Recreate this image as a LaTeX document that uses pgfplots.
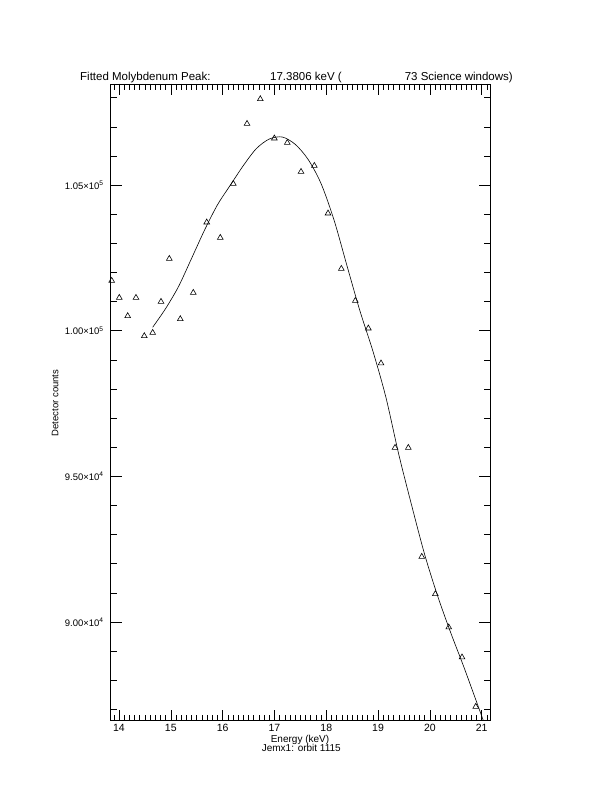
\documentclass[border=0pt]{standalone}
\usepackage{fontspec}
\setmainfont{Liberation Sans}
\usepackage{pgfplots}
\pgfplotsset{compat=1.18}
\begin{document}
\begin{tikzpicture}
\begin{axis}[
  scale only axis, width=379.3bp, height=636.7bp,
  xmin=13.84, xmax=21.16, ymin=86610, ymax=108470,
  axis line style={line width=0.6bp},
  every tick/.style={line width=0.6bp, black},
  tick align=inside, tick pos=both,
  xtick={14,15,16,17,18,19,20,21},
  xticklabels={14,15,16,17,18,19,20,21},
  minor xtick={13.9,14.0,...,21.1},
  ytick={90000,95000,100000,105000},
  yticklabels={9.00\texttimes10\textsuperscript{4},9.50\texttimes10\textsuperscript{4},1.00\texttimes10\textsuperscript{5},1.05\texttimes10\textsuperscript{5}},
  minor ytick={87000,88000,...,108000},
  scaled y ticks=false,
  major tick length=11bp, minor tick length=6bp,
  xticklabel style={font=\fontsize{10.5bp}{12bp}\selectfont},
  yticklabel style={font=\fontsize{9.5bp}{11bp}\selectfont, xshift=-3.5bp},
]
\addplot[only marks, mark=triangle, mark size=3.3bp, mark options={line width=0.6bp, black}] coordinates {
(13.859,101717) (14.006,101133) (14.168,100505) (14.328,101133) (14.488,99818)
(14.650,99931) (14.811,100996) (14.971,102472) (15.183,100402) (15.434,101305)
(15.693,103721) (15.955,103193) (16.206,105047) (16.471,107106) (16.727,107954)
(16.998,106605) (17.248,106454) (17.513,105458) (17.770,105664) (18.034,104030)
(18.291,102128) (18.561,101030) (18.812,100082) (19.057,98881) (19.327,95983)
(19.584,95983) (19.843,92241) (20.105,90961) (20.364,89818) (20.620,88788)
(20.885,87092)
};
\addplot[no marks, smooth, tension=0.5, line width=0.6bp, black] coordinates {
(14.65,100117) (14.90,100760) (15.15,101520) (15.40,102480) (15.65,103450)
(15.90,104320) (16.15,105000) (16.40,105670) (16.65,106250) (16.90,106580)
(17.15,106650) (17.40,106400) (17.65,105880) (17.90,105050) (18.15,103800)
(18.40,102230) (18.65,100680) (18.90,99300) (19.15,97720) (19.40,95750)
(19.65,93990) (19.90,92310) (20.15,90890) (20.40,89640) (20.65,88480)
(20.90,87260) (21.15,86030)
};
\end{axis}
\path (current axis.south west) ++(-110.7bp,-71.3bp) rectangle ++(612bp,792bp);
\begin{scope}[shift={(current axis.south west)}, every node/.style={inner sep=0pt}]
\node[anchor=base west, font=\fontsize{11.5bp}{14bp}\selectfont] at (-30.7bp,640.2bp) {Fitted Molybdenum Peak:};
\node[anchor=base west, font=\fontsize{11.5bp}{14bp}\selectfont] at (159.3bp,640.2bp) {17.3806 keV (};
\node[anchor=base east, font=\fontsize{11.5bp}{14bp}\selectfont] at (402.3bp,640.2bp) {73 Science windows)};
\node[anchor=base, font=\fontsize{10bp}{12bp}\selectfont] at (189.3bp,-22bp) {Energy (keV)};
\node[anchor=base, font=\fontsize{10bp}{12bp}\selectfont] at (190.6bp,-31bp) {Jemx1: orbit 1115};
\node[anchor=base, rotate=90, font=\fontsize{9.5bp}{11bp}\selectfont] at (-52.4bp,317.7bp) {Detector counts};
\end{scope}
\end{tikzpicture}
\end{document}
